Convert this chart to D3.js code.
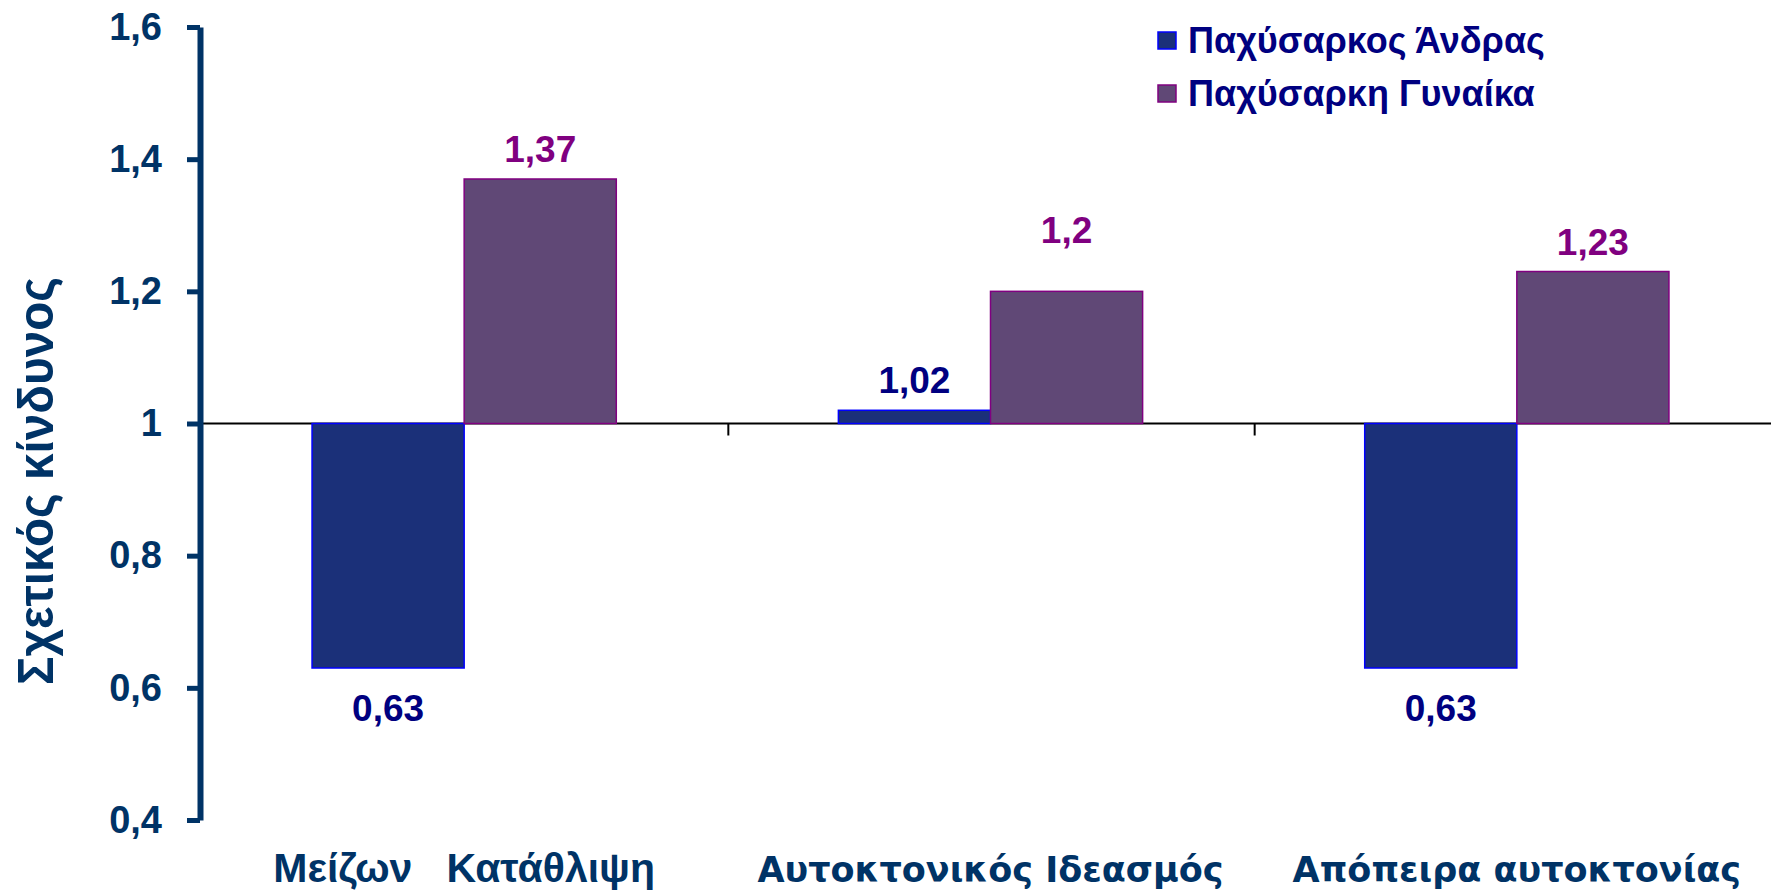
<!DOCTYPE html>
<html>
<head>
<meta charset="utf-8">
<script src="https://cdn.jsdelivr.net/npm/d3@7"></script>
<style>
  body { margin: 0; background: #fff; }
  text { white-space: pre; }
</style>
</head>
<body>
<div id="chart"></div>
<script>
// data
var categories = ["Μείζων   Κατάθλιψη", "Αυτοκτονικός Ιδεασμός", "Απόπειρα αυτοκτονίας"];
var seriesNames = ["Παχύσαρκος Άνδρας", "Παχύσαρκη Γυναίκα"];
var maleValues = [0.63, 1.02, 0.63];
var femaleValues = [1.37, 1.2, 1.23];
var yTicks = [0.4, 0.6, 0.8, 1, 1.2, 1.4, 1.6];

var svgWidth = 1771;
var svgHeight = 890;

var fills = ["#1b3079", "#604876"];
var strokes = ["#0000ff", "#800080"];
var labelColors = ["#000080", "#800080"];
var navy = "#003366";
// category label fonts differ in the original slide
var catFonts = ["'Liberation Sans', Arial, sans-serif", "'DejaVu Sans', sans-serif", "'DejaVu Sans', sans-serif"];
var catSizes = [41, 35, 35];

var svg = d3.select("#chart")
    .append("svg")
    .attr("width", svgWidth)
    .attr("height", svgHeight);

var x0 = d3.scaleBand()
    .domain(categories)
    .range([201, 1780])
    .padding(0);

var x1 = d3.scaleBand()
    .domain([0, 1])
    .range([0, x0.bandwidth()])
    .paddingInner(0)
    .paddingOuter(0.73);

var y = d3.scaleLinear()
    .domain([0.4, 1.6])
    .range([820, 27]);

var baseY = y(1);

var rows = categories.map(function(c, i) {
    return { cat: c, vals: [maleValues[i], femaleValues[i]] };
});

// baseline at 1 + small category ticks
svg.append("line")
    .attr("x1", x0.range()[0])
    .attr("x2", svgWidth)
    .attr("y1", baseY)
    .attr("y2", baseY)
    .attr("stroke", "#000")
    .attr("stroke-width", 2);

categories.forEach(function(c) {
    svg.append("line")
        .attr("x1", x0(c) + 1)
        .attr("x2", x0(c) + 1)
        .attr("y1", baseY)
        .attr("y2", baseY + 12)
        .attr("stroke", "#000")
        .attr("stroke-width", 2);
});

// bars
var groups = svg.selectAll(".grp")
    .data(rows)
    .enter()
    .append("g")
    .attr("transform", d => `translate(${x0(d.cat)},0)`);

groups.selectAll("rect")
    .data(d => d.vals.map((v, k) => ({ k: k, v: v })))
    .enter()
    .append("rect")
    .attr("x", d => x1(d.k))
    .attr("width", x1.bandwidth())
    .attr("y", d => Math.min(y(d.v), baseY))
    .attr("height", d => Math.abs(y(d.v) - baseY))
    .attr("fill", d => fills[d.k])
    .attr("stroke", d => strokes[d.k])
    .attr("stroke-width", 1.5);

// value labels (the 1,2 label sits higher in the original)
var labelNudge = { "2-1": -31 };
groups.each(function(d, gi) {
    d3.select(this).selectAll("text.val")
        .data(d.vals.map((v, k) => ({ k: k, v: v })))
        .enter()
        .append("text")
        .attr("class", "val")
        .attr("x", e => x1(e.k) + x1.bandwidth() / 2)
        .attr("y", e => (e.v >= 1 ? y(e.v) - 17 : y(e.v) + 53) + (labelNudge[(gi + 1) + "-" + e.k] || 0))
        .attr("text-anchor", "middle")
        .style("font-family", "'Liberation Sans', Arial, sans-serif")
        .style("font-weight", "bold")
        .style("font-size", "37px")
        .style("fill", e => labelColors[e.k])
        .text(e => String(e.v).replace(".", ","));
});

// y axis
var leftAxis = d3.axisLeft(y)
    .tickValues(yTicks)
    .tickSize(13)
    .tickSizeOuter(0)
    .tickPadding(25)
    .tickFormat(d => String(d).replace(".", ","));

var yAxis = svg.append("g")
    .attr("transform", "translate(200,0)")
    .call(leftAxis);

yAxis.select(".domain")
    .attr("stroke", navy)
    .attr("stroke-width", 6);
yAxis.selectAll(".tick line")
    .attr("stroke", navy)
    .attr("stroke-width", 5);
yAxis.selectAll(".tick text")
    .style("font-family", "'Liberation Sans', Arial, sans-serif")
    .style("font-weight", "bold")
    .style("font-size", "38px")
    .style("fill", navy);

// y axis title
svg.append("text")
    .attr("transform", "translate(53,481) rotate(-90)")
    .attr("text-anchor", "middle")
    .attr("textLength", 408)
    .attr("lengthAdjust", "spacingAndGlyphs")
    .style("font-family", "'Liberation Sans', Arial, sans-serif")
    .style("font-weight", "bold")
    .style("font-size", "50px")
    .style("fill", navy)
    .text("Σχετικός κίνδυνος");

// category labels
categories.forEach(function(c, i) {
    svg.append("text")
        .attr("x", x0(c) + x0.bandwidth() / 2)
        .attr("y", 882)
        .attr("text-anchor", "middle")
        .style("font-family", catFonts[i])
        .style("font-weight", "bold")
        .style("font-size", catSizes[i] + "px")
        .style("fill", navy)
        .text(c);
});

// legend
var legend = svg.append("g")
    .attr("transform", "translate(1158,0)");

seriesNames.forEach(function(name, i) {
    legend.append("rect")
        .attr("x", 0)
        .attr("y", 32 + i * 53)
        .attr("width", 18)
        .attr("height", 17)
        .attr("fill", fills[i])
        .attr("stroke", strokes[i])
        .attr("stroke-width", 1.5);
    legend.append("text")
        .attr("x", 30)
        .attr("y", 53 + i * 53)
        .style("font-family", "'Liberation Sans', Arial, sans-serif")
        .style("font-weight", "bold")
        .style("font-size", "36px")
        .style("fill", "#000080")
        .text(name);
});
</script>
</body>
</html>
